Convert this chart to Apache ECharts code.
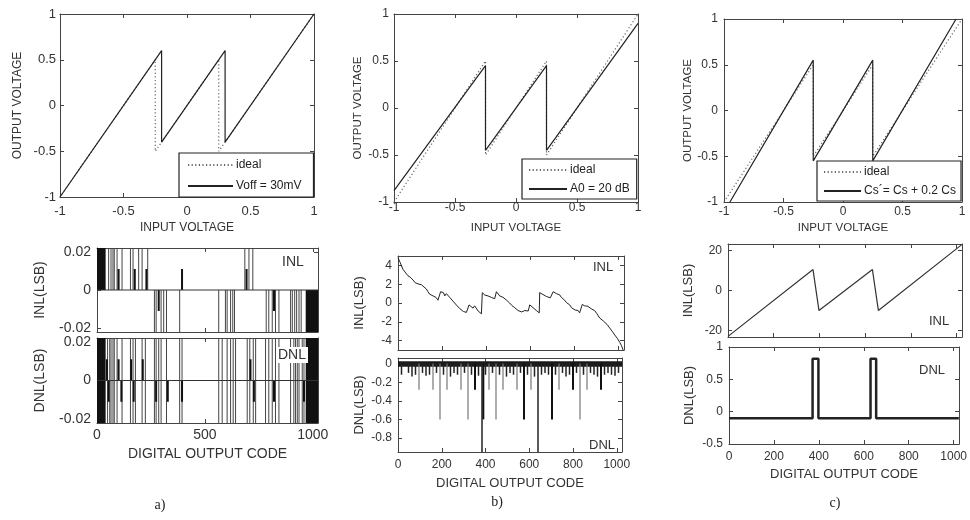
<!DOCTYPE html>
<html><head><meta charset="utf-8">
<script src="https://cdn.jsdelivr.net/npm/echarts@6/dist/echarts.min.js"></script>
<style>html,body{margin:0;padding:0;background:#fff}#c{width:970px;height:520px}</style>
</head><body><div id="c"></div>
<script>
// ---------- DATA ----------
// top row: transfer curves (input voltage -> output voltage)
const idealX = [-1, -0.25, -0.25, 0.25, 0.25, 1];
const idealY = [-1, 0.5, -0.5, 0.5, -0.5, 1];
const voffX = [-1, -0.2, -0.2, 0.3, 0.3, 1];
const voffY = [-1, 0.6, -0.4, 0.6, -0.4, 1];
const a0X = [-1, -0.25, -0.25, 0.25, 0.25, 1];
const a0Y = [-0.88, 0.45, -0.45, 0.45, -0.45, 0.9];
const csX = [-0.95, -0.25, -0.25, 0.25, 0.25, 0.95];
const csY = [-1, 0.55, -0.55, 0.55, -0.55, 1];

// panel a: INL / DNL bar-code traces
const aFull = 0.022, aHalf = 0.011;
const aInlUp = [54, 65, 74, 80, 93, 116, 155, 167, 193, 209, 235, 685, 704, 722];
const aInlUpHalf = [100, 175, 229, 394, 693];
const aInlDown = [266, 274, 297, 309, 322, 383, 564, 595, 603, 619, 629, 637, 784, 796, 812, 827, 843, 897, 905, 916, 925, 936, 946];
const aInlDownHalf = [286, 820];
const aInlBlockUp = [[0, 40]];
const aInlBlockDown = [[967, 1024]];
const aDnlFull = [49, 59, 65, 74, 80, 93, 116, 155, 167, 178, 209, 224, 266, 274, 286, 297, 322, 383, 394, 564, 580, 603, 619, 631, 642, 696, 708, 724, 735, 781, 796, 812, 827, 843, 897, 912, 920, 928, 936, 951, 959];
const aDnlUpHalf = [46, 100, 158, 212, 711];
const aDnlDownHalf = [54, 113, 170, 274, 328, 394, 727, 820, 959];
const aDnlBlocks = [[0, 40], [967, 1024]];

// panel b: INL trace
const bInlCode = [0,10,22,30,45,55,68,78,85,95,106,118,128,136,143,150,159,165,172,181,186,190,193,200,206,212,219,226,234,241,249,256,264,272,280,288,296,302,310,317,322,330,340,347,355,363,370,378,382,388,393,400,408,415,423,430,438,446,453,461,468,476,484,492,500,506,515,522,529,536,544,552,560,567,575,582,590,597,604,612,620,627,634,640,642,650,657,665,672,680,690,697,703,710,718,725,733,740,748,755,763,770,778,786,795,803,810,816,823,835,845,853,860,868,878,891,900,907,914,922,930,937,948,959,970,982,995,1005,1012,1020];
const bInlVal = [4.8,4.3,3.6,3.4,2.9,2.75,2.45,2.15,2.25,2.0,1.95,1.7,1.5,1.2,0.95,1.05,0.75,0.85,0.6,0.3,0.45,0.15,1.2,1.0,1.1,0.75,1.0,0.8,0.6,0.45,0.2,0.05,-0.2,-0.35,-0.6,-0.65,-0.9,-0.8,-1.0,-1.15,-0.2,-0.4,-0.55,-0.3,-0.5,-0.85,-0.7,-1.15,1.1,1.0,0.85,0.95,0.75,0.85,0.6,0.65,0.45,1.2,1.0,0.75,0.85,0.6,0.6,0.3,0.2,0.0,-0.25,-0.35,-0.5,-0.6,-0.8,-0.7,-0.95,-1.05,-0.8,-0.65,-0.85,-0.2,-0.35,-0.5,-0.45,-0.8,-0.9,-1.05,1.1,1.0,0.9,0.95,0.7,0.75,0.55,0.5,1.2,1.1,1.0,0.8,0.85,0.6,0.5,0.3,0.05,-0.1,-0.2,-0.5,-0.55,-0.75,-0.85,-0.8,-1.05,-0.15,-0.3,-0.5,-0.35,-0.45,-0.65,-0.8,-1.1,-1.3,-1.6,-1.7,-1.9,-2.0,-2.3,-2.65,-3.0,-3.4,-3.8,-4.2,-4.5,-5.0];

// panel b: DNL spikes [code, value]
const bDnlDeep = [[384, -0.95], [640, -0.95]];
const bDnlDark = [[390, -0.6], [576, -0.6], [704, -0.6], [352, -0.28], [800, -0.28], [928, -0.28]];
const bDnlGray = [[192, -0.6], [320, -0.6], [448, -0.6], [832, -0.6], [96, -0.28], [160, -0.28], [224, -0.28], [288, -0.28], [416, -0.28], [480, -0.28], [544, -0.28], [608, -0.28], [736, -0.28], [864, -0.28]];
const bDnlSmallCode = [16,48,64,80,112,128,144,176,208,240,256,272,304,336,368,400,432,464,496,512,528,560,592,624,656,672,688,720,752,768,784,816,848,880,896,912,944,960,976,992,1008];
const bDnlSmallVal = [-0.12,-0.1,-0.14,-0.12,-0.1,-0.13,-0.12,-0.1,-0.12,-0.14,-0.1,-0.12,-0.1,-0.12,-0.13,-0.12,-0.1,-0.12,-0.14,-0.1,-0.12,-0.1,-0.12,-0.14,-0.12,-0.1,-0.12,-0.12,-0.1,-0.14,-0.12,-0.1,-0.12,-0.1,-0.12,-0.14,-0.12,-0.1,-0.12,-0.13,-0.1];
const bDnlBand = [[0, 1024, -0.035, 0.025]];

// panel c: INL / DNL
const cInlCode = [0, 372, 398, 632, 658, 1023];
const cInlVal = [-23, 10.5, -10, 10.5, -10, 23];
const cDnlCode = [0, 372, 372, 398, 398, 630, 630, 655, 655, 1023];
const cDnlVal = [-0.1, -0.1, 0.82, 0.82, -0.1, -0.1, 0.82, 0.82, -0.1, -0.1];

// ---------- LAYOUT ----------
const G = [
  [60, 14, 254, 183], [394, 14, 244, 188], [724, 19, 238, 183],
  [97, 248, 221, 84], [97, 338, 221, 85],
  [398, 256, 226, 94], [398, 358, 224, 94],
  [728, 244, 234, 93], [729, 347, 233, 97]
];
const S = [
  {x:[-1,1,0.5], y:[-1,1,0.5], fs:13, xl:true, xname:'INPUT VOLTAGE', yname:'OUTPUT VOLTAGE', nfs:12, xgap:25, ygap:36, xm:8, ym:4, yHideEnds:false, xHideMax:false},
  {x:[-1,1,0.5], y:[-1,1,0.5], fs:12, xl:true, xname:'INPUT VOLTAGE', yname:'OUTPUT VOLTAGE', nfs:11.5, xgap:20, ygap:30, xm:0, ym:5, yHideEnds:false, xHideMax:false},
  {x:[-1,1,0.5], y:[-1,1,0.5], fs:12, xl:true, xname:'INPUT VOLTAGE', yname:'OUTPUT VOLTAGE', nfs:11.5, xgap:20, ygap:30, xm:4, ym:6, yHideEnds:false, xHideMax:false},
  {x:[0,1024,500], y:[-0.022,0.022,null,2], fs:14, xl:false, xname:'', yname:'INL(LSB)', nfs:14, xgap:24, ygap:50, xm:5, ym:6, yHideEnds:true, xHideMax:true},
  {x:[0,1024,500], y:[-0.022,0.022,null,2], fs:14, xl:true, xname:'DIGITAL OUTPUT CODE', yname:'DNL(LSB)', nfs:14, xgap:24, ygap:50, xm:5, ym:6, yHideEnds:true, xHideMax:true},
  {x:[0,1024,200], y:[-5,5,null,5], fs:12, xl:false, xname:'', yname:'INL(LSB)', nfs:13, xgap:25, ygap:32, xm:7, ym:6, yHideEnds:true, xHideMax:true},
  {x:[0,1024,200], y:[-0.95,0.06,null,5], fs:12, xl:true, xname:'DIGITAL OUTPUT CODE', yname:'DNL(LSB)', nfs:13, xgap:25, ygap:32, xm:7, ym:6, yHideEnds:true, xHideMax:true},
  {x:[0,1024,200], y:[-23.3,23.3,null,2], fs:12, xl:false, xname:'', yname:'INL(LSB)', nfs:13, xgap:24, ygap:33, xm:7, ym:6, yHideEnds:true, xHideMax:true},
  {x:[0,1024,200], y:[-0.5,1,0.5], fs:12, xl:true, xname:'DIGITAL OUTPUT CODE', yname:'DNL(LSB)', nfs:13, xgap:24, ygap:33, xm:7, ym:6, yHideEnds:false, xHideMax:true}
];

const TXT = '#333';
const FRAME = '#444';
const FONT = 'Liberation Sans, Arial, sans-serif';
const fmt = v => String(Math.round(v * 1000) / 1000);

const grid = G.map(g => ({left:g[0], top:g[1], width:g[2], height:g[3]}));
const xAxis = [], yAxis = [];
S.forEach((s, i) => {
  const base = {type:'value', gridIndex:i, splitLine:{show:false},
    axisLine:{show:true, onZero:false, lineStyle:{color:FRAME, width:1}},
    axisTick:{show:true, inside:true, length:4, lineStyle:{color:FRAME}}};
  const rng = (r) => r[2] != null ? {min:r[0], max:r[1], interval:r[2]} : {min:r[0], max:r[1], splitNumber:r[3]};
  xAxis.push(Object.assign({}, base, rng(s.x), {position:'bottom',
    axisLabel:{show:s.xl, fontSize:s.fs, color:TXT, fontFamily:FONT, margin:s.xm, formatter:fmt, showMinLabel:true, showMaxLabel:!s.xHideMax},
    name:s.xname, nameLocation:'middle', nameGap:s.xgap, nameTextStyle:{fontSize:s.nfs, color:TXT, fontFamily:FONT}}));
  xAxis.push(Object.assign({}, base, rng(s.x), {position:'top', axisLabel:{show:false}}));
  yAxis.push(Object.assign({}, base, rng(s.y), {position:'left',
    axisLabel:{show:true, fontSize:s.fs, color:TXT, fontFamily:FONT, margin:s.ym, formatter:fmt, showMinLabel:!s.yHideEnds, showMaxLabel:!s.yHideEnds},
    name:s.yname, nameLocation:'middle', nameGap:s.ygap, nameRotate:90, nameTextStyle:{fontSize:s.nfs, color:TXT, fontFamily:FONT}}));
  yAxis.push(Object.assign({}, base, rng(s.y), {position:'right', axisLabel:{show:false}}));
});

const zip = (xs, ys) => xs.map((x, k) => [x, ys[k]]);
function line(gi, name, xs, ys, opt) {
  return Object.assign({type:'line', name:name, xAxisIndex:2*gi, yAxisIndex:2*gi, data:zip(xs, ys),
    symbol:'none', silent:true, animation:false, clip:true,
    lineStyle:{color:'#222', width:1.2, type:'solid'}, itemStyle:{color:'#222'}}, opt || {});
}
function vlines(gi, data, color, width) {
  return {type:'custom', xAxisIndex:2*gi, yAxisIndex:2*gi, silent:true, animation:false,
    data:data, encode:{x:0, y:[1,2]},
    renderItem:function(params, api){
      const p1 = api.coord([api.value(0), api.value(1)]);
      const p2 = api.coord([api.value(0), api.value(2)]);
      return {type:'line', shape:{x1:p1[0], y1:p1[1], x2:p2[0], y2:p2[1]}, style:{stroke:color, lineWidth:width}};
    }};
}
function rects(gi, data, color) {
  return {type:'custom', xAxisIndex:2*gi, yAxisIndex:2*gi, silent:true, animation:false,
    data:data, encode:{x:[0,1], y:[2,3]},
    renderItem:function(params, api){
      const a = api.coord([api.value(0), api.value(3)]);
      const b = api.coord([api.value(1), api.value(2)]);
      return {type:'rect', shape:{x:a[0], y:a[1], width:b[0]-a[0], height:b[1]-a[1]}, style:{fill:color}};
    }};
}
const dotted = {lineStyle:{color:'#666', width:1.2, type:[1.2, 2.4]}, itemStyle:{color:'#666'}};

const series = [
  line(0, 'ideal', idealX, idealY, dotted), line(0, 'Voff = 30mV', voffX, voffY),
  line(1, 'ideal', idealX, idealY, dotted), line(1, 'A0 = 20 dB', a0X, a0Y),
  line(2, 'ideal', idealX, idealY, dotted), line(2, 'Cs\u00b4= Cs + 0.2 Cs', csX, csY),
  // a INL
  line(3, 'aInlZero', [0, 1024], [0, 0], {lineStyle:{color:'#333', width:1}}),
  vlines(3, aInlUp.map(c => [c, 0, aFull]), '#444', 1),
  vlines(3, aInlDown.map(c => [c, -aFull, 0]), '#444', 1),
  vlines(3, aInlUpHalf.map(c => [c, 0, aHalf]), '#111', 2),
  vlines(3, aInlDownHalf.map(c => [c, -aHalf, 0]), '#111', 2),
  rects(3, aInlBlockUp.map(b => [b[0], b[1], 0, aFull]), '#111'),
  rects(3, aInlBlockDown.map(b => [b[0], b[1], -aFull, 0]), '#111'),
  // a DNL
  line(4, 'aDnlZero', [0, 1024], [0, 0], {lineStyle:{color:'#333', width:1}}),
  vlines(4, aDnlFull.map(c => [c, -aFull, aFull]), '#444', 1),
  vlines(4, aDnlUpHalf.map(c => [c, 0, aHalf]), '#111', 2),
  vlines(4, aDnlDownHalf.map(c => [c, -aHalf, 0]), '#111', 2),
  rects(4, aDnlBlocks.map(b => [b[0], b[1], -aFull, aFull]), '#111'),
  // b INL
  line(5, 'bInl', bInlCode, bInlVal, {lineStyle:{color:'#222', width:1}}),
  // b DNL
  rects(6, bDnlBand, '#1a1a1a'),
  vlines(6, bDnlSmallCode.map((c, k) => [c, bDnlSmallVal[k], 0]), '#222', 1.5),
  vlines(6, bDnlGray.map(d => [d[0], d[1], 0]), '#777', 1.2),
  vlines(6, bDnlDark.map(d => [d[0], d[1], 0]), '#111', 2),
  vlines(6, bDnlDeep.map(d => [d[0], d[1], 0]), '#222', 1.5),
  // c INL / DNL
  line(7, 'cInl', cInlCode, cInlVal, {lineStyle:{color:'#333', width:1.2}}),
  line(8, 'cDnl', cDnlCode, cDnlVal, {lineStyle:{color:'#222', width:2.5}})
];

const legBase = {orient:'vertical', backgroundColor:'#fff', borderColor:'#222', borderWidth:1.2,
  itemHeight:12, itemGap:9, selectedMode:false, align:'left',
  itemStyle:{color:'rgba(0,0,0,0)', borderWidth:0, opacity:0},
  textStyle:{fontSize:12, color:'#222', fontFamily:FONT, padding:[0,0,0,-2]}};
const legend = [
  Object.assign({}, legBase, {data:['ideal', 'Voff = 30mV'], left:179, top:153, itemWidth:45, padding:[6, 12, 5, 8]}),
  Object.assign({}, legBase, {data:['ideal', 'A0 = 20 dB'], left:522, top:159, itemWidth:38, itemGap:7, padding:[5, 7, 4, 6]}),
  Object.assign({}, legBase, {data:['ideal', 'Cs\u00b4= Cs + 0.2 Cs'], left:817, top:161, itemWidth:37, itemGap:7, padding:[5, 5, 4, 6]})
];

const lab = (x, y, t, fs, extra) => Object.assign({type:'text', x:x, y:y, z:100,
  style:{text:t, fontSize:fs, fill:'#333', fontFamily:FONT, align:'center', verticalAlign:'middle'}}, extra || {});
const graphic = [
  lab(293, 262, 'INL', 14),
  {type:'text', x:292, y:355, z:100, style:{text:'DNL', fontSize:14, fill:'#333', fontFamily:FONT, align:'center', verticalAlign:'middle', backgroundColor:'#fff', padding:[1,2]}},
  lab(603, 267, 'INL', 13),
  lab(602, 445, 'DNL', 13),
  lab(939, 321, 'INL', 13),
  lab(932, 370, 'DNL', 13),
  {type:'text', x:160, y:505, style:{text:'a)', fontSize:14, fill:'#222', fontFamily:'Liberation Serif, serif', align:'center', verticalAlign:'middle'}},
  {type:'text', x:497, y:502, style:{text:'b)', fontSize:14, fill:'#222', fontFamily:'Liberation Serif, serif', align:'center', verticalAlign:'middle'}},
  {type:'text', x:835, y:503, style:{text:'c)', fontSize:14, fill:'#222', fontFamily:'Liberation Serif, serif', align:'center', verticalAlign:'middle'}}
];

const chart = echarts.init(document.getElementById('c'));
chart.setOption({animation:false, backgroundColor:'#fff', grid:grid, xAxis:xAxis, yAxis:yAxis, series:series, legend:legend, graphic:graphic});
</script>
</body></html>
